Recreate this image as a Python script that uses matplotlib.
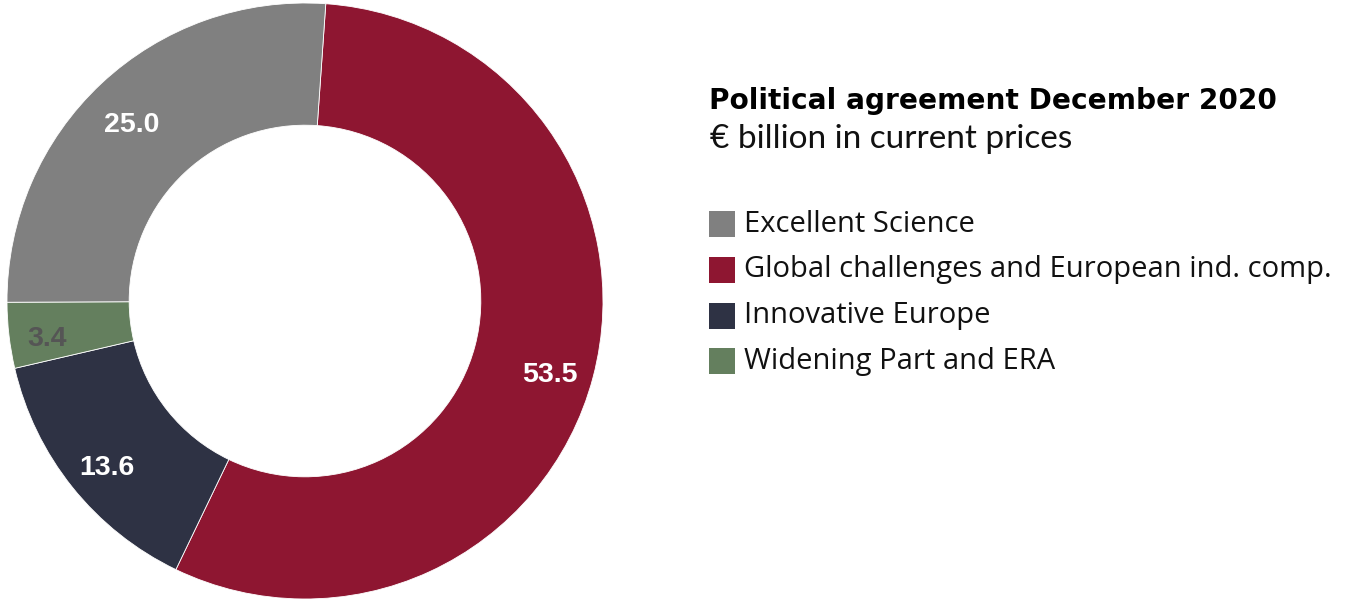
import matplotlib
matplotlib.use("Agg")
import matplotlib.pyplot as plt
from matplotlib.patches import Rectangle
import numpy as np

categories = ["Excellent Science", "Global challenges and European ind. comp.",
              "Innovative Europe", "Widening Part and ERA"]
values = [25.0, 53.5, 13.6, 3.4]
colors = ["#808080", "#8E1631", "#2E3244", "#647F5E"]
label_colors = ["white", "white", "white", "#555555"]

# drawing order clockwise from near the top: red, navy, green, gray
order = [1, 2, 3, 0]

W, H = 1353, 603
fig = plt.figure(figsize=(W / 100, H / 100), dpi=100)
fig.patch.set_facecolor("white")

cx, cy, R = 305, 302, 298
ax = fig.add_axes([(cx - R) / W, (cy - R) / H, 2 * R / W, 2 * R / H])
ax.axis("off")

vals = [values[i] for i in order]
cols = [colors[i] for i in order]
start = 86
wedges, _ = ax.pie(vals, colors=cols, startangle=start, counterclock=False,
                   radius=1.0, wedgeprops=dict(width=0.41, edgecolor="white", linewidth=0.6))
ax.set_xlim(-1, 1)
ax.set_ylim(-1, 1)
ax.set_aspect("equal")

total = sum(vals)
ang = start
for i, v in zip(order, vals):
    sweep = 360 * v / total
    mid = np.deg2rad(ang - sweep / 2)
    ang -= sweep
    r = 0.85
    dx = -0.02 if values[i] < 5 else 0.0
    ax.text(r * np.cos(mid) + dx, r * np.sin(mid) - 0.03, f"{values[i]:.1f}",
            ha="center", va="center", fontsize=20.5, fontweight="bold",
            family="Liberation Sans", color=label_colors[i])

# title and subtitle
fig.text(709 / W, 1 - 101 / H, "Political agreement December 2020",
         fontsize=20.2, fontweight="bold", family="DejaVu Sans", va="center", ha="left", color="black")
fig.text(710 / W, 1 - 139 / H, "€ billion in current prices",
         fontsize=24, fontweight="normal", family="Lato", va="center", ha="left", color="#111111")

# legend
ys = [224, 270, 316, 361]
for c, lab, y in zip(colors, categories, ys):
    fig.patches.append(Rectangle((709 / W, 1 - (y + 13) / H), 26 / W, 26 / H,
                                 transform=fig.transFigure, facecolor=c, edgecolor="none"))
    fig.text(744 / W, 1 - y / H, lab, fontsize=21, family="Open Sans",
             va="center", ha="left", color="#111111")

fig.savefig("out.png", dpi=100, facecolor="white")
